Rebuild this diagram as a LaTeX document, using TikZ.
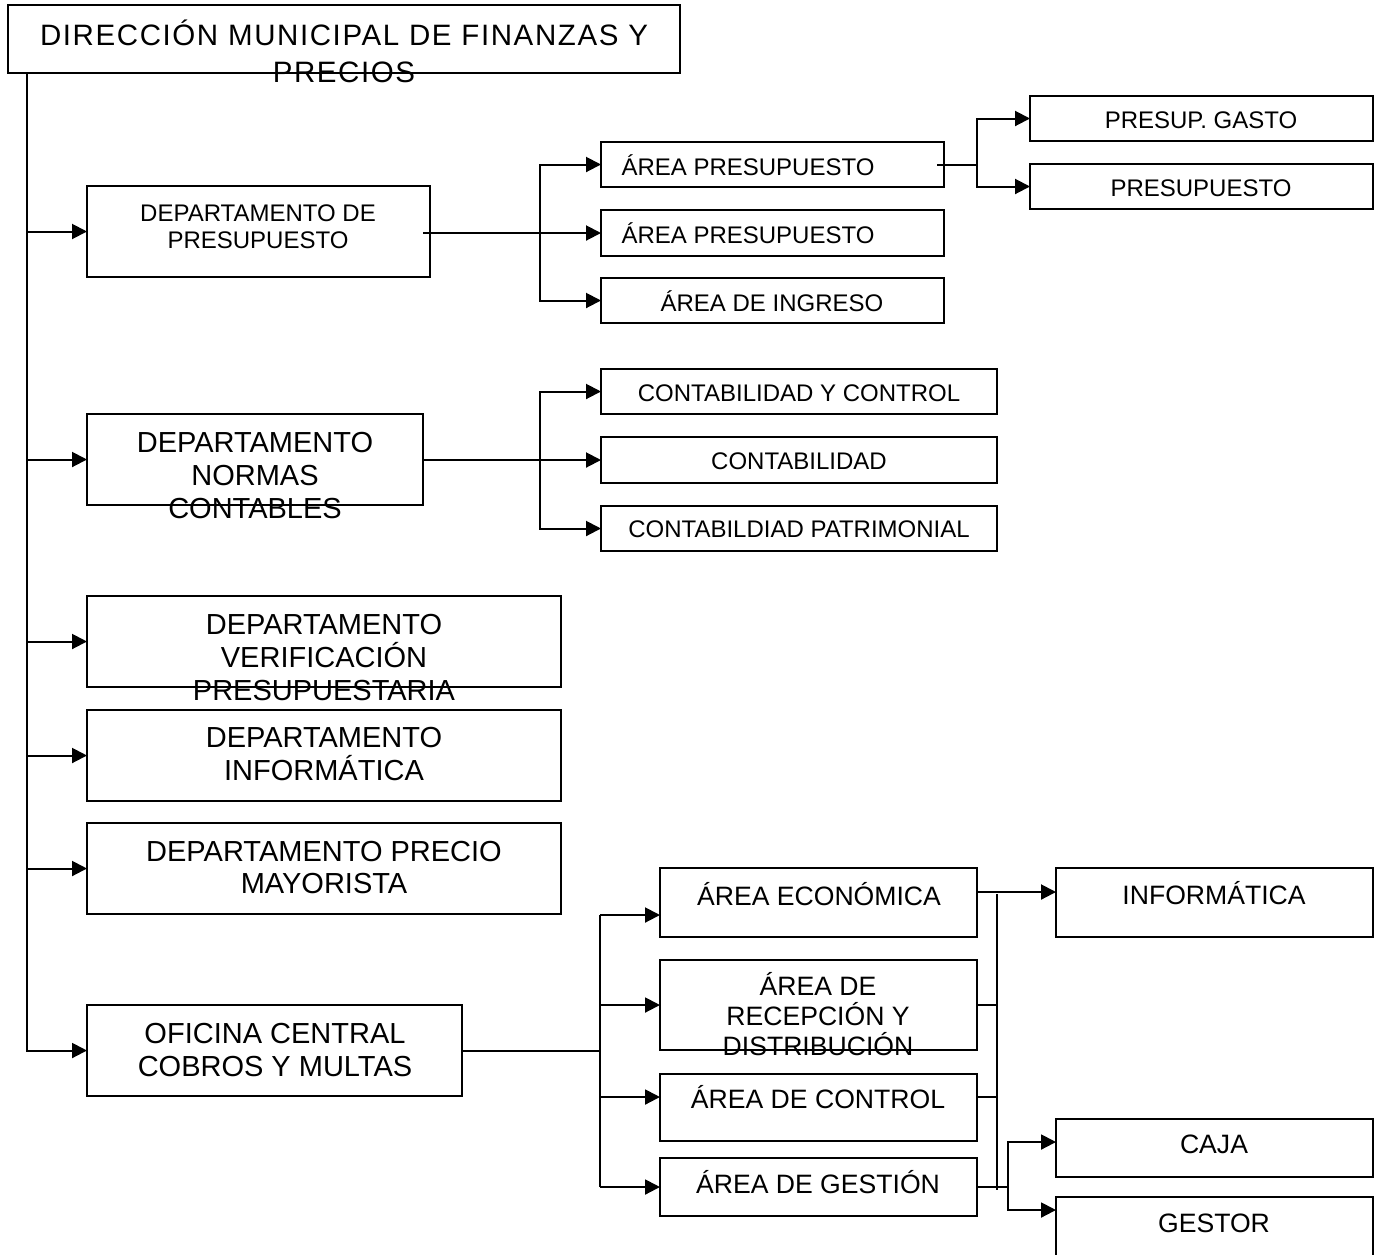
\documentclass[tikz,border=0pt]{standalone}
\usepackage{fontspec}
\setmainfont{Liberation Sans}
\newfontfamily\titlefont[LetterSpace=5.4]{Liberation Sans}
\usetikzlibrary{arrows.meta}

% font sizes (1 unit = 0.5pt)
\newcommand\fsmall{\fontsize{12}{13.5}\selectfont}
\newcommand\fmid{\fontsize{13.3}{15}\selectfont}
\newcommand\fbig{\fontsize{14.5}{16.5}\selectfont}
\newcommand\ftitle{\titlefont\fontsize{14.75}{18.5}\selectfont}

% \bx{name}{x1}{y1}{x2}{y2}: an empty framed box given by its corners
\newcommand\bx[5]{\node[box, minimum width={(#4-#2)*0.5pt}, minimum height={(#5-#3)*0.5pt}] (#1) at ({(#2+#4)/2},{(#3+#5)/2}) {};}
% \tl{name}{x}{baseline}{font}{text}: one line of text
\newcommand\tl[5]{\node[txt, font=#4] (#1) at (#2,#3) {#5};}

\tikzset{
  box/.style={draw=black, line width=1.05pt, rectangle, inner sep=0pt, outer sep=0pt},
  txt/.style={anchor=base, inner sep=0pt, outer sep=0pt},
  link/.style={line width=1pt},
  arr/.style={link, -{Triangle[length=7.5pt,width=7.5pt]}},
}

\begin{document}
\begin{tikzpicture}[x=0.5pt, y=-0.5pt]
\useasboundingbox (0,0) rectangle (1379,1254);
\fill[white] (0,0) rectangle (1379,1254);
\clip (0,0) rectangle (1379,1254);

% ---- boxes ----
\bx{title}{8}{5}{680}{73}
\bx{dp}{87}{186}{430}{277}
\bx{dn}{87}{414}{423}{505}
\bx{dv}{87}{596}{561}{687}
\bx{di}{87}{710}{561}{801}
\bx{dm}{87}{823}{561}{914}
\bx{ofi}{87}{1005}{462}{1096}
\bx{ap1}{601}{142}{944}{187}
\bx{ap2}{601}{210}{944}{256}
\bx{ing}{601}{278}{944}{323}
\bx{pg}{1030}{96}{1373}{141}
\bx{pr}{1030}{164}{1373}{209}
\bx{cc}{601}{369}{997}{414}
\bx{co}{601}{437}{997}{483}
\bx{cp}{601}{506}{997}{551}
\bx{ae}{660}{868}{977}{937}
\bx{ar}{660}{960}{977}{1050}
\bx{ac}{660}{1074}{977}{1141}
\bx{ag}{660}{1158}{977}{1216}
\bx{inf}{1056}{868}{1373}{937}
\bx{caja}{1056}{1119}{1373}{1177}
\bx{gst}{1056}{1197}{1373}{1272}

% ---- texts ----
\tl{title-a}{344}{45}{\ftitle}{DIRECCIÓN MUNICIPAL DE FINANZAS Y}
\tl{title-b}{344}{82}{\ftitle}{PRECIOS}
\tl{dp-a}{258}{221}{\fsmall}{DEPARTAMENTO DE}
\tl{dp-b}{258}{248}{\fsmall}{PRESUPUESTO}
\tl{dn-a}{255}{452}{\fbig}{DEPARTAMENTO}
\tl{dn-b}{255}{485}{\fbig}{NORMAS}
\tl{dn-c}{255}{518}{\fbig}{CONTABLES}
\tl{dv-a}{324}{634}{\fbig}{DEPARTAMENTO}
\tl{dv-b}{324}{667}{\fbig}{VERIFICACIÓN}
\tl{dv-c}{324}{700}{\fbig}{PRESUPUESTARIA}
\tl{di-a}{324}{747}{\fbig}{DEPARTAMENTO}
\tl{di-b}{324}{780}{\fbig}{INFORMÁTICA}
\tl{dm-a}{324}{861}{\fbig}{DEPARTAMENTO PRECIO}
\tl{dm-b}{324}{893}{\fbig}{MAYORISTA}
\tl{ofi-a}{275}{1043}{\fbig}{OFICINA CENTRAL}
\tl{ofi-b}{275}{1076}{\fbig}{COBROS Y MULTAS}
\tl{ap1-a}{748}{175}{\fsmall}{ÁREA PRESUPUESTO}
\tl{ap2-a}{748}{243}{\fsmall}{ÁREA PRESUPUESTO}
\tl{ing-a}{772}{311}{\fsmall}{ÁREA DE INGRESO}
\tl{pg-a}{1201}{128}{\fsmall}{PRESUP. GASTO}
\tl{pr-a}{1201}{196}{\fsmall}{PRESUPUESTO}
\tl{cc-a}{799}{401}{\fsmall}{CONTABILIDAD Y CONTROL}
\tl{co-a}{799}{469}{\fsmall}{CONTABILIDAD}
\tl{cp-a}{799}{537}{\fsmall}{CONTABILDIAD PATRIMONIAL}
\tl{ae-a}{819}{905}{\fmid}{ÁREA ECONÓMICA}
\tl{ar-a}{818}{995}{\fmid}{ÁREA DE}
\tl{ar-b}{818}{1025}{\fmid}{RECEPCIÓN Y}
\tl{ar-c}{818}{1055}{\fmid}{DISTRIBUCIÓN}
\tl{ac-a}{818}{1108}{\fmid}{ÁREA DE CONTROL}
\tl{ag-a}{818}{1193}{\fmid}{ÁREA DE GESTIÓN}
\tl{inf-a}{1214}{904}{\fmid}{INFORMÁTICA}
\tl{caja-a}{1214}{1153}{\fmid}{CAJA}
\tl{gst-a}{1214}{1232}{\fmid}{GESTOR}

% ---- bus lines and connection heights ----
\coordinate (spine) at ([xshift=9.5pt]title.south west);
\coordinate (bus1) at (540,0);
\coordinate (bus0) at (977,0);
\coordinate (bus2) at (600,0);
\coordinate (bus3) at (997,0);
\coordinate (bus4) at (1008,0);
\coordinate (yae) at (0,915);
\coordinate (yac) at (0,1097);
\coordinate (yinf) at (0,892);
\coordinate (ycaja) at (0,1142);
\coordinate (ygst) at (0,1210);

% main spine
\draw[arr] (spine) |- (ofi.west);
\foreach \n in {dp,dn,dv,di,dm}
  \draw[arr] (spine |- \n.west) -- (\n.west);

% budget department
\draw[arr] (dp.east |- ap2.west) ++(-7,0) -- (ap2.west);
\draw[arr] (bus1 |- ap2.west) |- (ap1.west);
\draw[arr] (bus1 |- ap2.west) |- (ing.west);
\draw[arr] (ap1.east) ++(-7,0) -- (bus0 |- ap1.east) |- (pg.west);
\draw[arr] (bus0 |- ap1.east) |- (pr.west);

% accounting standards department
\draw[arr] (dn.east |- co.west) -- (co.west);
\draw[arr] (bus1 |- co.west) |- (cc.west);
\draw[arr] (bus1 |- co.west) |- (cp.west);

% collections office
\draw[link] (ofi.east) -- (bus2 |- ofi.east);
\draw[link] (bus2 |- yae) -- (bus2 |- ag.west);
\draw[arr] (bus2 |- yae) -- (ae.west |- yae);
\draw[arr] (bus2 |- ar.west) -- (ar.west);
\draw[arr] (bus2 |- yac) -- (ac.west |- yac);
\draw[arr] (bus2 |- ag.west) -- (ag.west);

\draw[arr] (ae.east |- yinf) -- (inf.west |- yinf);
\draw[link] ([yshift=-1pt]bus3 |- yinf) -- ([yshift=-1.5pt]bus3 |- ag.east);
\draw[link] (ar.east) -- (bus3 |- ar.east);
\draw[link] (ac.east |- yac) -- (bus3 |- yac);
\draw[link] (ag.east) -- (bus4 |- ag.east);
\draw[arr] (bus4 |- ag.east) |- (caja.west |- ycaja);
\draw[arr] (bus4 |- ag.east) |- (gst.west |- ygst);
\end{tikzpicture}
\end{document}
